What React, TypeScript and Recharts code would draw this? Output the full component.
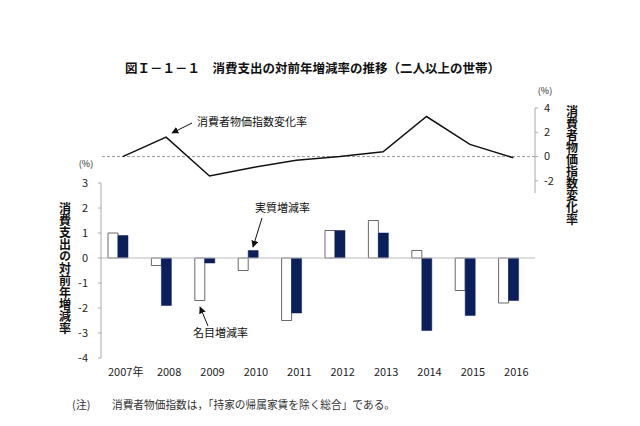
import React from 'react';
import {
  BarChart, Bar, ComposedChart, Line, XAxis, YAxis, ReferenceLine, Rectangle,
} from 'recharts';

const years = ['2007年', '2008', '2009', '2010', '2011', '2012', '2013', '2014', '2015', '2016'];
const nominal = [1.0, -0.3, -1.7, -0.5, -2.5, 1.1, 1.5, 0.3, -1.3, -1.8];
const real = [0.9, -1.9, -0.2, 0.3, -2.2, 1.1, 1.0, -2.9, -2.3, -1.7];
const cpi = [0.0, 1.6, -1.6, -0.9, -0.3, 0.0, 0.4, 3.3, 1.0, -0.1];

const barTicks = [-4, -3, -2, -1, 0, 1, 2, 3];
const cpiTicks = [-2, 0, 2, 4];

const titleText = '図Ｉ－１－１　消費支出の対前年増減率の推移（二人以上の世帯）';
const leftTitle = '消費支出の対前年増減率';
const rightTitle = '消費者物価指数変化率';
const noteHead = '(注)';
const noteText = '消費者物価指数は，「持家の帰属家賃を除く総合」である。';
const cpiLabel = '消費者物価指数変化率';
const realLabel = '実質増減率';
const nominalLabel = '名目増減率';

const data = years.map((y, i) => ({ year: y, nominal: nominal[i], real: real[i], cpi: cpi[i] }));

const W = 640;
const H = 426;
const FONT = "'Noto Sans CJK JP', 'Noto Sans', sans-serif";
const NAVY = '#0b1f5c';

const ShiftedBar = (props: any) => (
  <Rectangle
    x={props.x - 5}
    y={props.y}
    width={props.width}
    height={props.height}
    fill={props.fill}
    stroke={props.stroke}
    strokeWidth={props.strokeWidth}
  />
);

const VerticalText = ({ x, y, text, size }: any) => (
  <text
    x={x}
    y={y}
    fontSize={size}
    fontWeight="bold"
    fill="#111"
    fontFamily={FONT}
    style={{ writingMode: 'vertical-rl', textOrientation: 'upright' } as any}
  >
    {text}
  </text>
);

export default function App() {
  return (
    <div style={{ position: 'absolute', left: 0, top: 0, width: W, height: H, background: '#fff', fontFamily: FONT }}>
      <div style={{ position: 'absolute', left: 0, top: 0 }}>
        <BarChart
          width={W}
          height={H}
          data={data}
          barGap={0}
          margin={{ top: 183, bottom: 38, left: 61, right: 105 }}
        >
          <XAxis
            dataKey="year"
            axisLine={false}
            tickLine={false}
            tickSize={0}
            tickMargin={10}
            interval={0}
            height={30}
            dx={3}
            tick={{ fontSize: 11, fill: '#222' }}
          />
          <YAxis
            domain={[-4, 3]}
            ticks={barTicks}
            width={40}
            axisLine={{ stroke: '#aaa' }}
            tickLine={{ stroke: '#aaa' }}
            tickSize={3}
            tickMargin={10}
            interval={0}
            tick={{ fontSize: 11, fill: '#222' }}
          />
          <ReferenceLine y={0} stroke="#bbb" strokeWidth={1} />
          <Bar dataKey="nominal" barSize={10} fill="#fff" stroke="#444" strokeWidth={0.8} shape={ShiftedBar} isAnimationActive={false} />
          <Bar dataKey="real" barSize={10} fill={NAVY} stroke={NAVY} strokeWidth={0.5} shape={ShiftedBar} isAnimationActive={false} />
        </BarChart>
      </div>
      <div style={{ position: 'absolute', left: 0, top: 0 }}>
        <ComposedChart
          width={W}
          height={H}
          data={data}
          margin={{ top: 108, bottom: 233, left: 101, right: 65 }}
        >
          <XAxis dataKey="year" hide scale="band" />
          <YAxis
            orientation="right"
            domain={[-3, 4]}
            ticks={cpiTicks}
            width={40}
            axisLine={{ stroke: '#aaa' }}
            tickLine={{ stroke: '#aaa' }}
            tickSize={3}
            tickMargin={6}
            interval={0}
            tick={{ fontSize: 11, fill: '#222' }}
          />
          <ReferenceLine y={0} stroke="#999" strokeDasharray="3 2" strokeWidth={1} />
          <Line type="linear" dataKey="cpi" stroke="#111" strokeWidth={1.5} dot={false} isAnimationActive={false} />
        </ComposedChart>
      </div>
      <svg width={W} height={H} style={{ position: 'absolute', left: 0, top: 0, pointerEvents: 'none' }}>
        <defs>
          <marker id="ah" viewBox="0 0 10 10" refX="9" refY="5" markerWidth="7" markerHeight="7" orient="auto" markerUnits="userSpaceOnUse">
            <path d="M0,0 L10,5 L0,10 z" fill="#111" />
          </marker>
        </defs>
        <text x={125} y={72.5} fontSize={12.5} fontWeight="bold" fill="#111" fontFamily={FONT}>{titleText}</text>
        <VerticalText x={65} y={202} text={leftTitle} size={12} />
        <VerticalText x={572} y={105} text={rightTitle} size={12} />
        <text x={86} y={167} fontSize={9} textAnchor="middle" fill="#222" fontFamily={FONT}>(%)</text>
        <text x={545} y={94} fontSize={9} textAnchor="middle" fill="#222" fontFamily={FONT}>(%)</text>

        <text x={197} y={126} fontSize={11} fill="#111" fontFamily={FONT}>{cpiLabel}</text>
        <line x1={192} y1={123} x2={172} y2={133} stroke="#111" strokeWidth={1} markerEnd="url(#ah)" />

        <text x={255} y={212} fontSize={11} fill="#111" fontFamily={FONT}>{realLabel}</text>
        <line x1={262} y1={218} x2={253} y2={247} stroke="#111" strokeWidth={1} markerEnd="url(#ah)" />

        <text x={193} y={337} fontSize={11} fill="#111" fontFamily={FONT}>{nominalLabel}</text>
        <line x1={208} y1={326} x2={200} y2={307} stroke="#111" strokeWidth={1} markerEnd="url(#ah)" />

        <text x={72} y={409} fontSize={11} fill="#333" fontFamily={FONT}>{noteHead}</text>
        <text x={112} y={409} fontSize={11} fill="#333" fontFamily={FONT} textLength={283} lengthAdjust="spacingAndGlyphs">{noteText}</text>
      </svg>
    </div>
  );
}
